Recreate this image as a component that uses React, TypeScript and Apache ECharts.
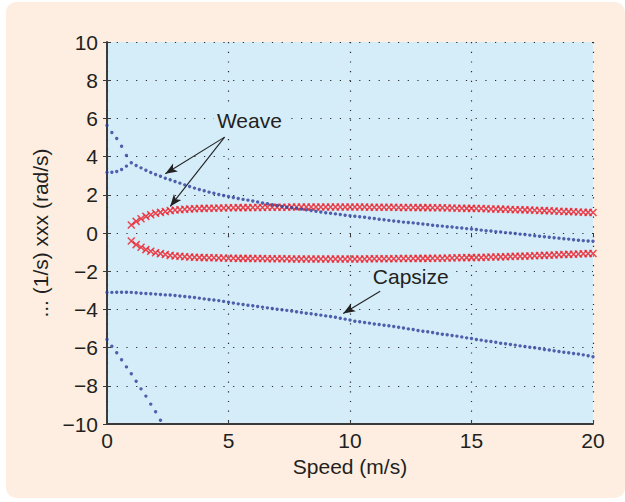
import React, { useEffect, useRef } from "react";
import * as echarts from "echarts";

// Speed grid (m/s)
const speeds = [
  0, 0.2, 0.4, 0.6, 0.8,
  1, 1.2, 1.4, 1.6, 1.8,
  2, 2.2, 2.4, 2.6, 2.8,
  3, 3.2, 3.4, 3.6, 3.8,
  4, 4.2, 4.4, 4.6, 4.8,
  5, 5.2, 5.4, 5.6, 5.8,
  6, 6.2, 6.4, 6.6, 6.8,
  7, 7.2, 7.4, 7.6, 7.8,
  8, 8.2, 8.4, 8.6, 8.8,
  9, 9.2, 9.4, 9.6, 9.8,
  10, 10.2, 10.4, 10.6, 10.8,
  11, 11.2, 11.4, 11.6, 11.8,
  12, 12.2, 12.4, 12.6, 12.8,
  13, 13.2, 13.4, 13.6, 13.8,
  14, 14.2, 14.4, 14.6, 14.8,
  15, 15.2, 15.4, 15.6, 15.8,
  16, 16.2, 16.4, 16.6, 16.8,
  17, 17.2, 17.4, 17.6, 17.8,
  18, 18.2, 18.4, 18.6, 18.8,
  19, 19.2, 19.4, 19.6, 19.8,
  20,
];

// Real part: weave (lower real branch below 1 m/s)
const weaveReal = [
  3.17, 3.18, 3.22, 3.32, 3.50,
  3.68, 3.53, 3.41, 3.29, 3.17,
  3.06, 2.97, 2.87, 2.79, 2.70,
  2.61, 2.52, 2.43, 2.35, 2.28,
  2.21, 2.14, 2.08, 2.02, 1.96,
  1.91, 1.86, 1.81, 1.76, 1.72,
  1.68, 1.62, 1.57, 1.53, 1.48,
  1.44, 1.39, 1.35, 1.32, 1.28,
  1.25, 1.21, 1.18, 1.14, 1.10,
  1.06, 1.03, 1.00, 0.97, 0.93,
  0.90, 0.88, 0.85, 0.82, 0.79,
  0.76, 0.72, 0.69, 0.66, 0.63,
  0.60, 0.57, 0.55, 0.53, 0.50,
  0.47, 0.44, 0.41, 0.38, 0.36,
  0.33, 0.31, 0.28, 0.26, 0.23,
  0.21, 0.18, 0.15, 0.12, 0.10,
  0.07, 0.05, 0.02, 0.00, -0.03,
  -0.06, -0.08, -0.11, -0.14, -0.17,
  -0.20, -0.22, -0.25, -0.27, -0.30,
  -0.32, -0.35, -0.38, -0.40, -0.42,
  -0.43,
];

// Upper real branch before the weave pair forms (0 - 0.8 m/s)
const upperRealBranch = [5.63, 5.26, 4.95, 4.54, 4.06];

// Capsize mode
const capsize = [
  -3.12, -3.11, -3.10, -3.10, -3.10,
  -3.11, -3.13, -3.15, -3.17, -3.18,
  -3.20, -3.22, -3.24, -3.25, -3.27,
  -3.30, -3.32, -3.35, -3.38, -3.41,
  -3.45, -3.48, -3.51, -3.54, -3.58,
  -3.63, -3.67, -3.71, -3.74, -3.78,
  -3.81, -3.85, -3.88, -3.92, -3.95,
  -3.99, -4.02, -4.05, -4.08, -4.12,
  -4.16, -4.20, -4.23, -4.27, -4.30,
  -4.34, -4.37, -4.41, -4.46, -4.51,
  -4.56, -4.62, -4.65, -4.69, -4.72,
  -4.76, -4.79, -4.83, -4.86, -4.90,
  -4.93, -4.97, -5.02, -5.05, -5.10,
  -5.14, -5.17, -5.21, -5.26, -5.30,
  -5.33, -5.37, -5.40, -5.44, -5.49,
  -5.52, -5.58, -5.61, -5.65, -5.68,
  -5.72, -5.77, -5.80, -5.84, -5.87,
  -5.91, -5.94, -5.98, -6.01, -6.05,
  -6.10, -6.13, -6.17, -6.20, -6.24,
  -6.27, -6.31, -6.34, -6.38, -6.43,
  -6.48,
];

// Castering mode (leaves the plot near 2.2 m/s)
const castering = [
  -5.58, -5.93, -6.27, -6.64, -7.01,
  -7.37, -7.76, -8.16, -8.54, -8.96,
  -9.36, -9.80,
];

// Imaginary part of weave (from 1.0 m/s), plotted as +/-
const weaveImag = [
  0.42, 0.61, 0.75, 0.87, 0.96,
  1.03, 1.08, 1.13, 1.17, 1.20,
  1.22, 1.24, 1.26, 1.27, 1.28,
  1.29, 1.30, 1.30, 1.31, 1.31,
  1.32, 1.32, 1.33, 1.33, 1.33,
  1.34, 1.34, 1.34, 1.35, 1.35,
  1.35, 1.35, 1.35, 1.36, 1.36,
  1.36, 1.36, 1.36, 1.36, 1.36,
  1.36, 1.36, 1.36, 1.36, 1.36,
  1.36, 1.36, 1.36, 1.36, 1.35,
  1.35, 1.35, 1.35, 1.35, 1.35,
  1.34, 1.34, 1.34, 1.34, 1.33,
  1.33, 1.33, 1.32, 1.32, 1.32,
  1.31, 1.31, 1.30, 1.30, 1.29,
  1.29, 1.28, 1.28, 1.27, 1.26,
  1.26, 1.25, 1.24, 1.23, 1.22,
  1.22, 1.21, 1.20, 1.19, 1.18,
  1.17, 1.16, 1.15, 1.14, 1.13,
  1.12, 1.11, 1.10, 1.09, 1.08,
  1.07,
];
const imagStartIndex = 5;

// Annotations (data coordinates)
const weaveLabel = { text: "Weave", coord: [5.86, 5.89] };
const capsizeLabel = { text: "Capsize", coord: [12.5, -2.3] };
const arrows = [
  { from: [4.84, 5.02], to: [2.4, 3.1] },
  { from: [4.84, 5.02], to: [2.6, 1.39] },
  { from: [11.24, -3.05], to: [9.72, -4.21] },
];

const FONT = "'Liberation Sans', Arial, Helvetica, sans-serif";
const TEXT = "#231f20";
const BLUE = "#2c3c98";
const RED = "#ec1c24";
const PLOT_BG = "#d5ecf9";

export default function App() {
  const ref = useRef<HTMLDivElement>(null);

  useEffect(() => {
    if (!ref.current) return;
    const chart = echarts.init(ref.current, null, { renderer: "svg" });

    const pair = (vals: number[], offset = 0) =>
      vals.map((v, i) => [speeds[i + offset], v]);

    const dotSeries = (name: string, data: number[][]) => ({
      name,
      type: "scatter",
      data,
      symbol: "circle",
      symbolSize: 3.4,
      itemStyle: { color: BLUE },
      z: 5,
    });

    const crossSeries = (name: string, data: number[][]) => ({
      name,
      type: "scatter",
      data,
      symbol: "path://M0,0L10,10M10,0L0,10",
      symbolSize: 7,
      itemStyle: { color: "none", borderColor: RED, borderWidth: 1.5 },
      z: 4,
    });

    const splitLine = {
      show: true,
      lineStyle: { color: "#2a2a2a", width: 1.2, type: [1.2, 8.5] },
    };

    const labelStyle = {
      show: true,
      position: "inside",
      fontSize: 21,
      fontFamily: FONT,
      color: TEXT,
      backgroundColor: PLOT_BG,
      padding: [1, 3],
    };

    chart.setOption({
      animation: false,
      backgroundColor: "transparent",
      grid: {
        left: 107,
        right: 32,
        top: 42,
        bottom: 78,
        show: true,
        backgroundColor: PLOT_BG,
        borderWidth: 0,
      },
      xAxis: [
        {
          type: "value",
          min: 0,
          max: 20,
          interval: 5,
          axisLine: { show: true, onZero: false, lineStyle: { color: "#3a3a3a", width: 2 } },
          axisTick: { show: true, inside: true, length: 4, lineStyle: { color: "#3a3a3a" } },
          axisLabel: { fontSize: 21, color: TEXT, margin: 6, fontFamily: FONT },
          splitLine,
          name: "Speed (m/s)",
          nameLocation: "middle",
          nameGap: 29,
          nameTextStyle: { fontSize: 21, color: TEXT, fontFamily: FONT },
        },
        {
          type: "value",
          position: "top",
          min: 0,
          max: 20,
          interval: 5,
          axisLine: { show: false },
          axisTick: { show: true, inside: true, length: 4, lineStyle: { color: "#3a3a3a" } },
          axisLabel: { show: false },
          splitLine: { show: false },
        },
      ],
      yAxis: [
        {
          type: "value",
          min: -10,
          max: 10,
          interval: 2,
          axisLine: { show: true, onZero: false, lineStyle: { color: "#3a3a3a", width: 2 } },
          axisTick: { show: true, inside: true, length: 4, lineStyle: { color: "#3a3a3a" } },
          axisLabel: {
            fontSize: 21,
            color: TEXT,
            margin: 9,
            fontFamily: FONT,
            formatter: (v: number) => String(v).replace("-", "\u2212"),
          },
          splitLine,
          name: "... (1/s) xxx (rad/s)",
          nameLocation: "middle",
          nameGap: 54,
          nameTextStyle: { fontSize: 21, color: TEXT, fontFamily: FONT },
        },
        {
          type: "value",
          position: "right",
          min: -10,
          max: 10,
          interval: 2,
          axisLine: { show: false },
          axisTick: { show: true, inside: true, length: 4, lineStyle: { color: "#3a3a3a" } },
          axisLabel: { show: false },
          splitLine: { show: false },
        },
      ],
      series: [
        crossSeries("Weave imag +", pair(weaveImag, imagStartIndex)),
        crossSeries("Weave imag -", pair(weaveImag.map((v) => -v), imagStartIndex)),
        dotSeries("Weave real", pair(weaveReal)),
        dotSeries("Upper real", pair(upperRealBranch)),
        dotSeries("Capsize", pair(capsize)),
        dotSeries("Castering", pair(castering)),
        {
          name: "Annotations",
          type: "scatter",
          data: [],
          z: 10,
          markLine: {
            silent: true,
            animation: false,
            symbol: ["none", "arrow"],
            symbolSize: [7, 12],
            label: { show: false },
            lineStyle: { color: "#222", width: 1.1, type: "solid" },
            data: arrows.map((a) => [{ coord: a.from }, { coord: a.to }]),
          },
          markPoint: {
            silent: true,
            animation: false,
            symbol: "circle",
            symbolSize: 1,
            itemStyle: { color: "rgba(0,0,0,0)" },
            data: [
              { coord: weaveLabel.coord, label: { ...labelStyle, formatter: weaveLabel.text } },
              { coord: capsizeLabel.coord, label: { ...labelStyle, formatter: capsizeLabel.text } },
            ],
          },
        },
      ],
    });

    return () => chart.dispose();
  }, []);

  return (
    <div style={{ position: "absolute", left: 0, top: 0, width: 625, height: 502, background: "#ffffff" }}>
      <div
        style={{
          position: "absolute",
          left: 6,
          top: 2,
          width: 619,
          height: 496,
          background: "#fdeee1",
          borderRadius: 10,
        }}
      />
      <div ref={ref} style={{ position: "absolute", left: 0, top: 0, width: 625, height: 502 }} />
    </div>
  );
}
